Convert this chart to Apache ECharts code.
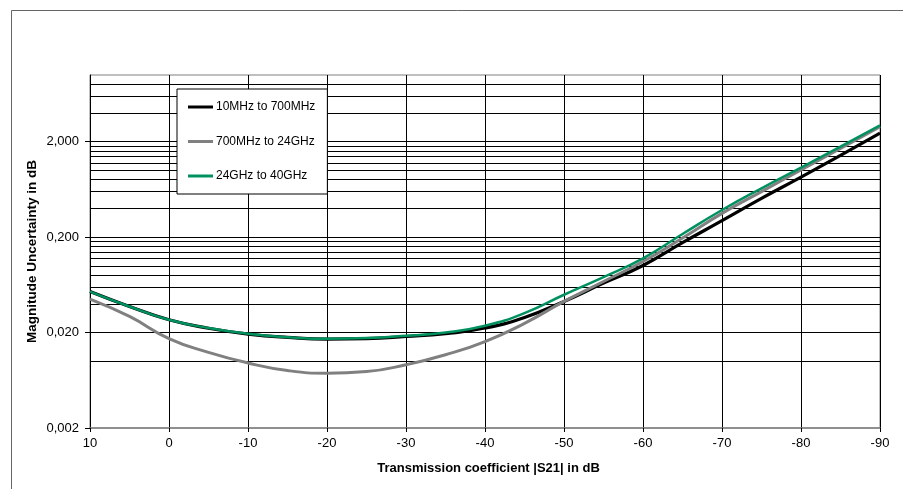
<!DOCTYPE html>
<html>
<head>
<meta charset="utf-8">
<script src="https://cdn.jsdelivr.net/npm/echarts@6/dist/echarts.min.js"></script>
<style>
html,body{margin:0;padding:0;background:#fff;}
#chart{width:903px;height:489px;}
</style>
</head>
<body>
<div id="chart"></div>
<script>
// x positions (|S21| in dB)
var xValues = [10, 5, 0, -5, -10, -15, -20, -25, -30, -35, -40, -45, -50, -55, -60, -65, -70, -75, -80, -85, -90];
// series values (magnitude uncertainty in dB)
var s10M700M = [0.0538, 0.0375, 0.0272, 0.0222, 0.0193, 0.0178, 0.0171, 0.0173, 0.0182, 0.0195, 0.0223, 0.0288, 0.0424, 0.066, 0.101, 0.175, 0.298, 0.51, 0.85, 1.44, 2.46];
var s700M24G = [0.0449, 0.0295, 0.0173, 0.0124, 0.0096, 0.0080, 0.0075, 0.0078, 0.0092, 0.0117, 0.0161, 0.025, 0.0424, 0.0686, 0.111, 0.196, 0.355, 0.6, 1.01, 1.7, 2.88];
var s24G40G = [0.0538, 0.0375, 0.0272, 0.0223, 0.0194, 0.0179, 0.0172, 0.0175, 0.0185, 0.0200, 0.0236, 0.032, 0.0498, 0.0762, 0.12, 0.216, 0.385, 0.65, 1.07, 1.78, 2.97];
var seriesNames = ['10MHz to 700MHz', '700MHz to 24GHz', '24GHz to 40GHz'];
// axis ticks
var yMajorTicks = [0.002, 0.02, 0.2, 2];
var yGridLines = [0.004, 0.006, 0.008, 0.010, 0.012, 0.014, 0.016, 0.018, 0.02,
                  0.04, 0.06, 0.08, 0.10, 0.12, 0.14, 0.16, 0.18, 0.2,
                  0.4, 0.6, 0.8, 1.0, 1.2, 1.4, 1.6, 1.8, 2,
                  4, 6, 8];

function pairs(vals) { return xValues.map(function (x, i) { return [x, vals[i]]; }); }
var FONT = '"Liberation Sans", Arial, sans-serif';

var chart = echarts.init(document.getElementById('chart'), null, {renderer: 'canvas'});
chart.setOption({
  animation: false,
  backgroundColor: '#fff',
  textStyle: {fontFamily: FONT},
  graphic: [{
    type: 'rect', left: 9, top: 8, silent: true, z: -10,
    shape: {x: 0, y: 0, width: 1000, height: 1000},
    style: {fill: null, stroke: '#666', lineWidth: 1}
  }],
  grid: {left: 90, right: 23, top: 75, bottom: 61, show: true, borderColor: '#808080', borderWidth: 1, backgroundColor: 'transparent'},
  legend: {
    orient: 'vertical', left: 177, top: 89, z: 20,
    data: seriesNames,
    backgroundColor: '#fff', borderColor: '#000', borderWidth: 1, borderRadius: 0,
    padding: [12, 12, 12, 11], itemGap: 22.5, itemWidth: 25, itemHeight: 3,
    icon: 'rect',
    textStyle: {fontFamily: FONT, fontSize: 12, color: '#000', padding: [0, 0, 0, -2]}
  },
  xAxis: {
    type: 'value', min: -90, max: 10, interval: 10, inverse: true,
    name: 'Transmission coefficient |S21| in dB', nameLocation: 'middle', nameGap: 34,
    nameMoveOverlap: false,
    nameTextStyle: {fontFamily: FONT, fontSize: 13, fontWeight: 'bold', color: '#000', padding: [0, 0, 0, 7]},
    axisLine: {lineStyle: {color: '#808080', width: 1.5}},
    axisTick: {show: true, inside: false, length: 4, lineStyle: {color: '#000'}},
    axisLabel: {fontFamily: FONT, fontSize: 13, color: '#000', margin: 9},
    splitLine: {show: true, lineStyle: {color: '#000', width: 1}}
  },
  yAxis: {
    type: 'log', logBase: 10, min: 0.002, max: 10,
    name: 'Magnitude Uncertainty in dB', nameLocation: 'middle', nameGap: 51,
    nameMoveOverlap: false,
    nameTextStyle: {fontFamily: FONT, fontSize: 13.5, fontWeight: 'bold', color: '#000'},
    axisLine: {show: true, onZero: false, lineStyle: {color: '#000', width: 1}},
    axisTick: {show: true, inside: false, length: 5, customValues: yMajorTicks, lineStyle: {color: '#000'}},
    axisLabel: {fontFamily: FONT, fontSize: 13, color: '#000', margin: 11, customValues: yMajorTicks,
      formatter: function (v) { return Number(v).toFixed(3).replace('.', ','); }},
    splitLine: {show: false}
  },
  series: [
    {
      type: 'line', name: '_grid', data: [], z: 1, silent: true,
      markLine: {
        silent: true, symbol: ['none', 'none'], animation: false, z: 1,
        label: {show: false},
        lineStyle: {color: '#000', width: 1, type: 'solid'},
        emphasis: {disabled: true},
        data: yGridLines.map(function (v) { return {yAxis: v}; })
      }
    },
    {
      type: 'line', name: seriesNames[0], data: pairs(s10M700M), smooth: true, showSymbol: false, z: 3,
      color: '#000', lineStyle: {color: '#000', width: 3.2}
    },
    {
      type: 'line', name: seriesNames[1], data: pairs(s700M24G), smooth: true, showSymbol: false, z: 4,
      color: '#808080', lineStyle: {color: '#808080', width: 3}
    },
    {
      type: 'line', name: seriesNames[2], data: pairs(s24G40G), smooth: true, showSymbol: false, z: 5,
      color: '#00915E', lineStyle: {color: '#00915E', width: 2.5}
    }
  ]
});
</script>
</body>
</html>
